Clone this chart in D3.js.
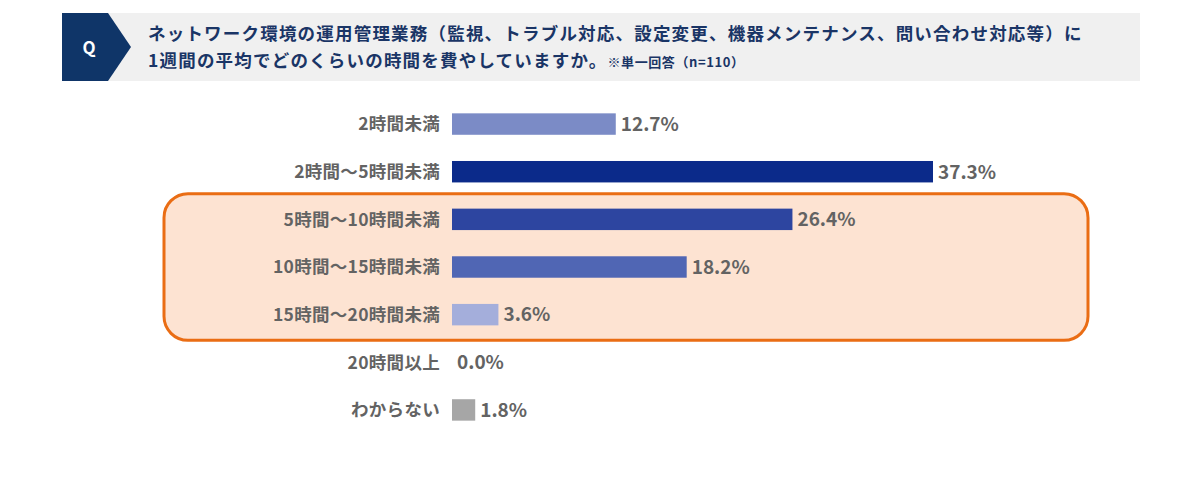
<!DOCTYPE html>
<html>
<head>
<meta charset="utf-8">
<script src="https://cdn.jsdelivr.net/npm/d3@7"></script>
<style>
  html, body { margin: 0; padding: 0; background: #fff; }
  svg { display: block; font-family: "Noto Sans CJK JP", "Noto Sans", sans-serif; }
</style>
</head>
<body>
<div id="chart"></div>
<script>
const categories = ["2時間未満", "2時間〜5時間未満", "5時間〜10時間未満", "10時間〜15時間未満", "15時間〜20時間未満", "20時間以上", "わからない"];
const values = [12.7, 37.3, 26.4, 18.2, 3.6, 0.0, 1.8];
const barColors = ["#7b8bc6", "#0b2a8a", "#2d45a0", "#5066b4", "#a4aedb", "#a4aedb", "#a6a6a6"];
const highlighted = ["5時間〜10時間未満", "10時間〜15時間未満", "15時間〜20時間未満"];
const titleLine1 = "ネットワーク環境の運用管理業務（監視、トラブル対応、設定変更、機器メンテナンス、問い合わせ対応等）に";
const titleLine2 = "1週間の平均でどのくらいの時間を費やしていますか。";
const titleNote = "※単一回答（n=110）";

const width = 1200, height = 486;
const svg = d3.select("#chart").append("svg")
    .attr("width", width)
    .attr("height", height);

// header band
svg.append("rect")
    .attr("x", 62).attr("y", 13)
    .attr("width", 1078).attr("height", 68)
    .attr("fill", "#f0f0f0");

svg.append("path")
    .attr("d", "M62,13 L108,13 L131,47 L108,81 L62,81 Z")
    .attr("fill", "#0f3568");

svg.append("text")
    .attr("x", 89).attr("y", 54)
    .attr("text-anchor", "middle")
    .attr("fill", "#fff")
    .attr("font-size", 17)
    .attr("font-weight", "bold")
    .text("Q");

svg.append("text")
    .attr("x", 148).attr("y", 40)
    .attr("fill", "#1a3566")
    .attr("font-size", 17.5)
    .attr("font-weight", "bold")
    .attr("letter-spacing", 1.2)
    .text(titleLine1);

const t2 = svg.append("text")
    .attr("x", 148).attr("y", 67)
    .attr("fill", "#1a3566")
    .attr("font-weight", "bold")
    .attr("letter-spacing", 1.2);
t2.append("tspan").attr("font-size", 17.5).text(titleLine2);
t2.append("tspan").attr("font-size", 13).attr("letter-spacing", 0.6).text(titleNote);

// scales
const x = d3.scaleLinear()
    .domain([0, 37.3])
    .range([452, 933]);

const y = d3.scaleBand()
    .domain(categories)
    .range([100, 434])
    .paddingInner(0.55)
    .paddingOuter(0.28);

// highlight box
const hFirst = y(highlighted[0]);
const hLast = y(highlighted[highlighted.length - 1]) + y.bandwidth();
svg.append("rect")
    .attr("x", 164).attr("y", hFirst - 15)
    .attr("width", 924).attr("height", hLast - hFirst + 30)
    .attr("rx", 24).attr("ry", 24)
    .attr("fill", "#fde3d2")
    .attr("stroke", "#ea6d14")
    .attr("stroke-width", 3);

// bars
svg.selectAll("rect.bar")
    .data(categories)
    .enter()
    .append("rect")
    .attr("class", "bar")
    .attr("x", x(0))
    .attr("y", d => y(d))
    .attr("width", (d, i) => x(values[i]) - x(0))
    .attr("height", y.bandwidth())
    .attr("fill", (d, i) => barColors[i]);

// category labels
svg.selectAll("text.cat")
    .data(categories)
    .enter()
    .append("text")
    .attr("class", "cat")
    .attr("x", 440)
    .attr("y", d => y(d) + y.bandwidth() / 2)
    .attr("dy", "0.36em")
    .attr("text-anchor", "end")
    .attr("fill", "#636363")
    .attr("font-size", 17.5)
    .attr("font-weight", "bold")
    .attr("letter-spacing", 0.3)
    .text(d => d);

// value labels
svg.selectAll("text.val")
    .data(categories)
    .enter()
    .append("text")
    .attr("class", "val")
    .attr("x", (d, i) => x(values[i]) + 5)
    .attr("y", d => y(d) + y.bandwidth() / 2)
    .attr("dy", "0.36em")
    .attr("fill", "#636363")
    .attr("font-size", 19)
    .attr("font-weight", "bold")
    .text((d, i) => values[i].toFixed(1) + "%");
</script>
</body>
</html>
